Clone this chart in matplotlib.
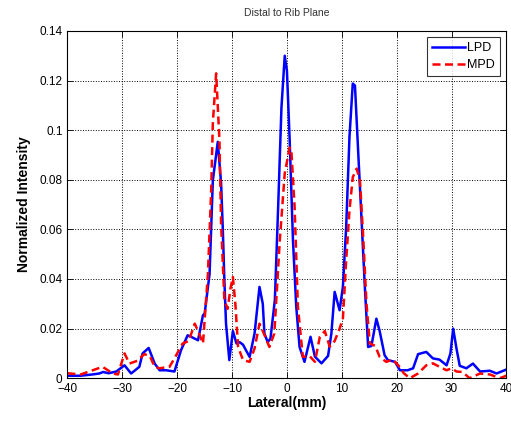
import matplotlib
matplotlib.use("Agg")
import matplotlib.pyplot as plt

plt.rcParams['font.family'] = ['Liberation Sans', 'DejaVu Sans']

# lateral profiles (mm, normalized intensity)
lpd_x = [-40, -37.6, -35.5, -34.2, -33.5, -32.5, -31.1, -29.6, -28.4, -27.5, -26.9, -26.3, -25.2, -24.1,
         -23.2, -22.0, -20.5, -19.3, -18.1, -17.3, -16.2, -15.3, -15.0, -14.1, -13.5, -12.6, -12.0, -11.7,
         -11.4, -11.1, -10.5, -9.85, -9.2, -8.6, -8.0, -7.4, -6.8, -5.9, -5.0, -4.4, -4.1, -3.5, -3.0, -2.2,
         -1.6, -1.0, -0.4, 0.0, 0.5, 1.1, 1.7, 2.3, 3.2, 4.3, 5.1, 6.3, 7.5, 8.1, 8.7, 9.6, 10.2, 10.8, 11.4,
         12.0, 12.4, 13.0, 13.6, 14.2, 14.8, 15.4, 16.3, 16.9, 17.8, 18.4, 19.7, 20.6, 22.0, 23.0, 23.9,
         25.4, 26.6, 27.8, 29.1, 29.8, 30.3, 30.9, 31.5, 32.7, 33.9, 35.2, 37.0, 38.2, 40]
lpd_y = [0.001, 0.001, 0.0015, 0.0019, 0.0025, 0.002, 0.0027, 0.0052, 0.0019, 0.0035, 0.0046, 0.0100,
         0.0122, 0.0059, 0.0032, 0.0032, 0.0027, 0.0113, 0.0173, 0.0165, 0.0153, 0.0254, 0.026, 0.042,
         0.0798, 0.0953, 0.0786, 0.061, 0.0395, 0.022, 0.0073, 0.019, 0.014, 0.0145, 0.0135, 0.011, 0.0086,
         0.018, 0.0368, 0.030, 0.018, 0.0145, 0.016, 0.0315, 0.069, 0.109, 0.130, 0.124, 0.096, 0.0556,
         0.0288, 0.0126, 0.0066, 0.0167, 0.0087, 0.006, 0.009, 0.018, 0.0348, 0.0274, 0.0368, 0.061, 0.0973,
         0.1188, 0.118, 0.0907, 0.064, 0.0368, 0.0126, 0.013, 0.024, 0.019, 0.0093, 0.0073, 0.0066, 0.0032,
         0.0032, 0.004, 0.0097, 0.0106, 0.008, 0.0075, 0.0052, 0.010, 0.020, 0.012, 0.005, 0.004, 0.0059,
         0.0027, 0.003, 0.0019, 0.0035]

mpd_x = [-40, -37.6, -35.4, -33.6, -32.5, -31.8, -30.8, -29.6, -28.7, -27.3, -26.0, -25.0, -24.1, -23.2,
         -21.4, -20.5, -19.0, -17.9, -16.8, -16.0, -15.3, -14.4, -13.8, -13.5, -12.9, -12.3, -12.0, -11.4,
         -10.8, -10.3, -9.85, -9.4, -8.9, -8.0, -6.8, -5.9, -5.0, -4.2, -3.2, -2.3, -1.3, -0.4, 0.5, 0.8, 1.4,
         2.0, 2.9, 4.1, 5.1, 6.0, 6.9, 7.8, 8.7, 9.6, 10.2, 10.8, 11.4, 12.0, 12.7, 13.3, 13.9, 14.5, 15.1,
         16.1, 16.9, 18.1, 19.3, 20.3, 21.3, 22.4, 23.9, 25.4, 26.6, 27.8, 29.1, 30.0, 30.9, 32.0, 33.3, 35.2,
         37.0, 38.8, 40]
mpd_y = [0.002, 0.0015, 0.0032, 0.0046, 0.003, 0.0019, 0.0015, 0.010, 0.0059, 0.007, 0.0097, 0.009,
         0.0046, 0.004, 0.0046, 0.008, 0.014, 0.015, 0.022, 0.018, 0.014, 0.042, 0.076, 0.103, 0.1229,
         0.096, 0.0625, 0.0315, 0.028, 0.036, 0.0408, 0.030, 0.0126, 0.0073, 0.0066, 0.012, 0.022, 0.018,
         0.0126, 0.018, 0.0556, 0.0826, 0.093, 0.092, 0.069, 0.0288, 0.0086, 0.009, 0.0066, 0.0167, 0.019,
         0.0127, 0.015, 0.020, 0.024, 0.0476, 0.0677, 0.081, 0.0845, 0.080, 0.057, 0.030, 0.014, 0.013,
         0.0086, 0.0066, 0.0075, 0.0052, 0.002, 0.0, 0.0019, 0.0052, 0.006, 0.0046, 0.0032, 0.004, 0.0027,
         0.0025, 0.0, 0.0019, 0.0015, 0.0, 0.001]

fig = plt.figure(figsize=(5.11, 4.24), dpi=100)
ax = fig.add_axes([0.132, 0.108, 0.859, 0.819])

ax.plot(lpd_x, lpd_y, color='#0000ff', lw=1.8, label='LPD')
ax.plot(mpd_x, mpd_y, color='#ff0000', lw=1.8, ls=(0, (3.2, 1.8)), label='MPD')

ax.set_xlim(-40, 40)
ax.set_ylim(0, 0.14)
ax.set_xticks(range(-40, 41, 10))
ax.set_yticks([0, 0.02, 0.04, 0.06, 0.08, 0.1, 0.12, 0.14])
ax.set_yticklabels(['0', '0.02', '0.04', '0.06', '0.08', '0.1', '0.12', '0.14'])
ax.tick_params(direction='in', top=True, right=True, labelsize=8.5, length=4, width=0.6)
ax.grid(True, ls=':', color='black', lw=0.7)
for s in ax.spines.values():
    s.set_linewidth(0.8)

ax.set_title('Distal to Rib Plane', fontsize=7.5, color='#333333', pad=11)
ax.set_xlabel('Lateral(mm)', fontsize=10, fontweight='bold', labelpad=1)
ax.set_ylabel('Normalized Intensity', fontsize=10, fontweight='bold', labelpad=6)

leg = ax.legend(loc='upper right', fontsize=9, fancybox=False, edgecolor='black',
                handlelength=2.6, borderpad=0.4, labelspacing=0.4, handletextpad=0.2,
                borderaxespad=0.5)
leg.get_frame().set_linewidth(0.8)

fig.savefig('out.png', dpi=100)
